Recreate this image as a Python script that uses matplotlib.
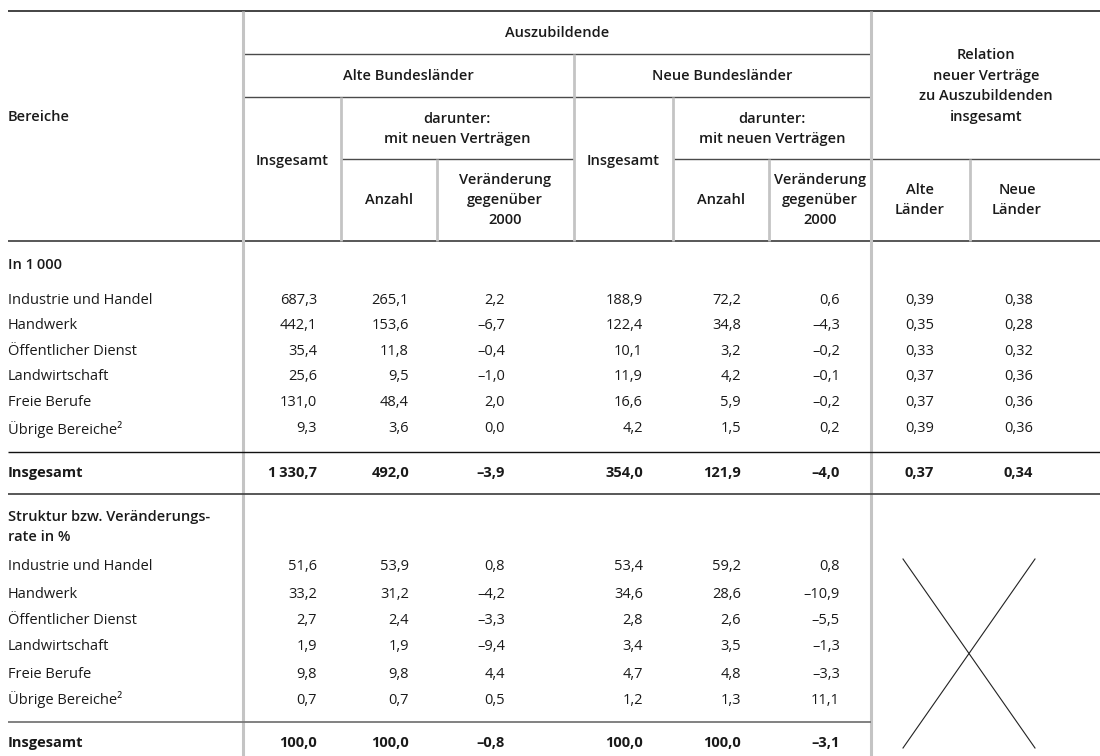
import matplotlib
matplotlib.use('Agg')
import matplotlib.pyplot as plt

plt.rcParams['font.family'] = ['Open Sans', 'DejaVu Sans']

# row labels
bereiche = ['Industrie und Handel', 'Handwerk', 'Öffentlicher Dienst',
            'Landwirtschaft', 'Freie Berufe', 'Übrige Bereiche²']

# In 1 000 (last value = Insgesamt)
alte_insg = [687.3, 442.1, 35.4, 25.6, 131.0, 9.3, 1330.7]
alte_neu = [265.1, 153.6, 11.8, 9.5, 48.4, 3.6, 492.0]
alte_ver = [2.2, -6.7, -0.4, -1.0, 2.0, 0.0, -3.9]
neue_insg = [188.9, 122.4, 10.1, 11.9, 16.6, 4.2, 354.0]
neue_neu = [72.2, 34.8, 3.2, 4.2, 5.9, 1.5, 121.9]
neue_ver = [0.6, -4.3, -0.2, -0.1, -0.2, 0.2, -4.0]
rel_alte = [0.39, 0.35, 0.33, 0.37, 0.37, 0.39, 0.37]
rel_neue = [0.38, 0.28, 0.32, 0.36, 0.36, 0.36, 0.34]

# Struktur bzw. Veraenderungsrate in % (last value = Insgesamt)
alte_insg_pct = [51.6, 33.2, 2.7, 1.9, 9.8, 0.7, 100.0]
alte_neu_pct = [53.9, 31.2, 2.4, 1.9, 9.8, 0.7, 100.0]
alte_ver_pct = [0.8, -4.2, -3.3, -9.4, 4.4, 0.5, -0.8]
neue_insg_pct = [53.4, 34.6, 2.8, 3.4, 4.7, 1.2, 100.0]
neue_neu_pct = [59.2, 28.6, 2.6, 3.5, 4.8, 1.3, 100.0]
neue_ver_pct = [0.8, -10.9, -5.5, -1.3, -3.3, 11.1, -3.1]


def fmt(v, dec=1):
    """German number format: comma decimal, thin space thousands, en dash minus"""
    s = f'{abs(v):,.{dec}f}'
    s = s.replace(',', '\u2009').replace('.', ',')
    if v < 0:
        s = '\u2013' + s
    return s


TXT = '#1a1a1a'
LIGHT = '#c4c4c4'
DARK = '#4a4a4a'
FS = 10.5

fig = plt.figure(figsize=(11, 7.56), dpi=100)
ax = fig.add_axes([0, 0, 1, 1])
ax.set_xlim(0, 1100)
ax.set_ylim(756, 0)
ax.axis('off')


def hline(y, x0, x1, color=DARK, lw=1.0):
    ax.plot([x0, x1], [y, y], color=color, lw=lw, solid_capstyle='butt')


def vline(x, y0, y1, color=LIGHT, lw=2.0):
    ax.plot([x, x], [y0, y1], color=color, lw=lw, solid_capstyle='butt')


# header lines
hline(11, 8, 1100, color='#111111', lw=1.1)
hline(54, 243, 871)
hline(97, 243, 871)
hline(159, 341, 574)
hline(159, 673, 1100)
hline(241, 8, 1100, color=DARK, lw=1.3)
vline(243, 11, 756, lw=2.2)
vline(871, 11, 756, lw=2.2)
for x, y0 in [(574, 54), (341, 97), (673, 97), (437, 159), (769, 159), (970, 159)]:
    vline(x, y0, 241)

# body lines
hline(452, 8, 1100, color='#111111', lw=1.0)
hline(494, 8, 1100, color=DARK, lw=1.3)
hline(722, 8, 871, color='#777777', lw=1.3)

# the cross in the relation columns
ax.plot([903, 1035], [559, 748], color='#222222', lw=0.8)
ax.plot([1035, 903], [559, 748], color='#222222', lw=0.8)

# header text
hkw = dict(color=TXT, fontsize=FS, fontweight='semibold', ha='center', va='center',
           multialignment='center', linespacing=1.55)
ax.text(8, 117, 'Bereiche', **{**hkw, 'ha': 'left'})
ax.text(557, 33, 'Auszubildende', **hkw)
ax.text(408, 76, 'Alte Bundesländer', **hkw)
ax.text(722, 76, 'Neue Bundesländer', **hkw)
ax.text(292, 161, 'Insgesamt', **hkw)
ax.text(623, 161, 'Insgesamt', **hkw)
ax.text(457, 129, 'darunter:\nmit neuen Verträgen', **{**hkw, 'linespacing': 1.48})
ax.text(772, 129, 'darunter:\nmit neuen Verträgen', **{**hkw, 'linespacing': 1.48})
ax.text(389, 200, 'Anzahl', **hkw)
ax.text(721, 200, 'Anzahl', **hkw)
ax.text(505, 200, 'Veränderung\ngegenüber\n2000', **hkw)
ax.text(820, 200, 'Veränderung\ngegenüber\n2000', **hkw)
ax.text(986, 86, 'Relation\nneuer Verträge\nzu Auszubildenden\ninsgesamt',
        **{**hkw, 'linespacing': 1.62})
ax.text(920, 200, 'Alte\nLänder', **hkw)
ax.text(1017, 200, 'Neue\nLänder', **hkw)

# section titles
skw = dict(color=TXT, fontsize=FS, fontweight='semibold', ha='left', va='center',
           linespacing=1.6)
ax.text(8, 265, 'In 1\u2009000', **skw)
ax.text(8, 527, 'Struktur bzw. Veränderungs-\nrate in %', **skw)

col_right = [317, 409, 505, 643, 741, 840, 934, 1033]


def draw_block(cols, decs, rows_y, total_y):
    for i, name in enumerate(bereiche):
        ax.text(8, rows_y[i], name, color=TXT, fontsize=FS, ha='left', va='center')
        for c, vals in enumerate(cols):
            ax.text(col_right[c], rows_y[i], fmt(vals[i], decs[c]), color=TXT,
                    fontsize=FS, ha='right', va='center')
    ax.text(8, total_y, 'Insgesamt', color=TXT, fontsize=FS, fontweight='bold',
            ha='left', va='center')
    for c, vals in enumerate(cols):
        ax.text(col_right[c], total_y, fmt(vals[-1], decs[c]), color=TXT,
                fontsize=FS, fontweight='bold', ha='right', va='center')


rows1 = [300, 325.6, 351.2, 377, 403, 429]
draw_block([alte_insg, alte_neu, alte_ver, neue_insg, neue_neu, neue_ver, rel_alte, rel_neue],
           [1, 1, 1, 1, 1, 1, 2, 2], rows1, 473)

rows2 = [567, 594, 620, 647, 674, 700]
draw_block([alte_insg_pct, alte_neu_pct, alte_ver_pct, neue_insg_pct, neue_neu_pct, neue_ver_pct],
           [1, 1, 1, 1, 1, 1], rows2, 743)

fig.savefig('out.png', dpi=100)
